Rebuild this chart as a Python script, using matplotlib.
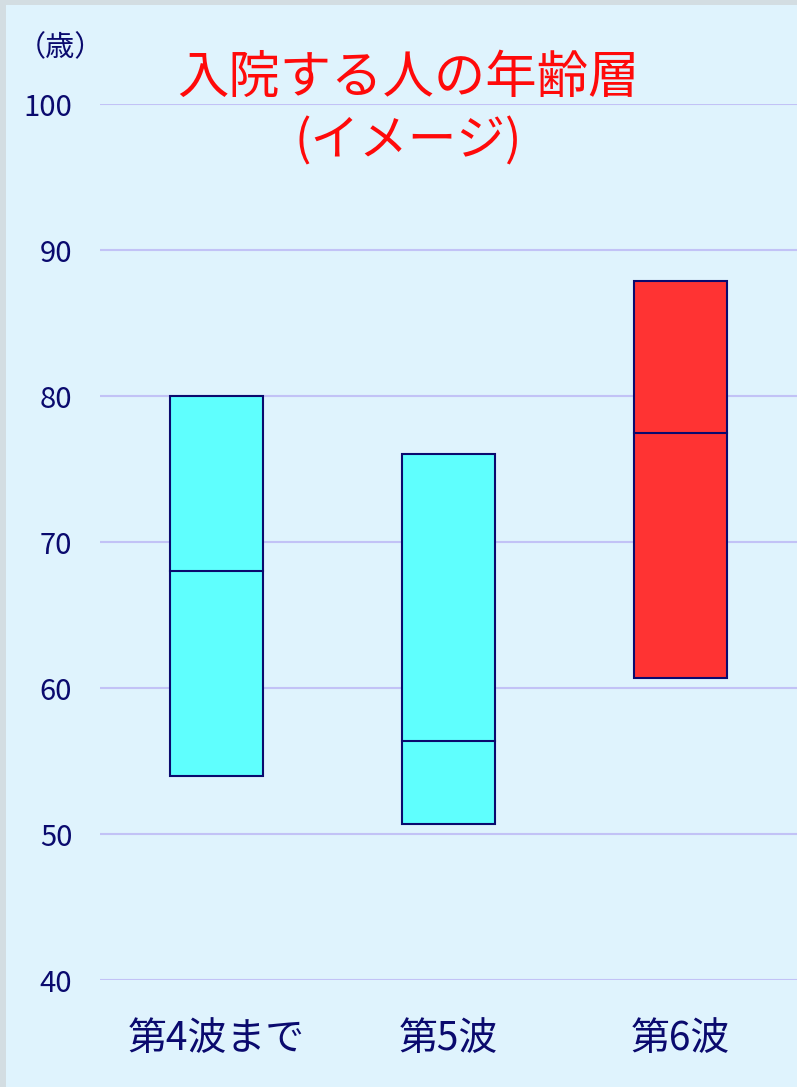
import matplotlib.pyplot as plt
from matplotlib.patches import Rectangle

plt.rcParams['font.family'] = ['Noto Sans CJK JP', 'DejaVu Sans']

# data
waves = ['第4波まで', '第5波', '第6波']
low = [54.0, 50.7, 60.7]
median = [68.0, 56.4, 77.5]
high = [80.0, 76.0, 87.9]
colors = ['#5ffffe', '#5ffffe', '#ff3333']
yticks = [40, 50, 60, 70, 80, 90, 100]

navy = '#0a0a6e'
bg = '#dff3fd'

fig = plt.figure(figsize=(7.97, 10.87), dpi=100)
fig.patch.set_facecolor('#d3dde2')
fig.patches.append(Rectangle((6 / 797, 0), 1, 1 - 5 / 1087, transform=fig.transFigure,
                             facecolor=bg, edgecolor='none', zorder=-5))

ax = fig.add_axes([100 / 797, 1 - 980 / 1087, 697 / 797, 876 / 1087])
ax.set_facecolor(bg)

x = range(len(waves))
# boxes from low to high, with a line at the median
ax.bar(x, [h - l for h, l in zip(high, low)], bottom=low, width=0.4,
       color=colors, edgecolor=navy, linewidth=1.5, zorder=3)
for i in x:
    ax.plot([i - 0.2, i + 0.2], [median[i], median[i]], color=navy, lw=1.5, zorder=4)

ax.set_xlim(-0.5, 2.5)
ax.set_ylim(40, 100)
ax.set_yticks(yticks)
ax.yaxis.grid(True, color='#c2c2f6', lw=1.5, zorder=1)
ax.set_axisbelow(True)
for s in ax.spines.values():
    s.set_visible(False)
ax.tick_params(length=0)
ax.set_yticklabels([str(v) for v in yticks], fontsize=21, color=navy)
ax.tick_params(axis='y', pad=20)
ax.set_xticks(list(x))
ax.set_xticklabels(waves, fontsize=28, color=navy)
ax.tick_params(axis='x', pad=28)

fig.text(60 / 797, 1 - 48 / 1087, '（歳）', fontsize=21, color=navy, ha='center', va='center')
fig.text(408 / 797, 1 - 78 / 1087, '入院する人の年齢層', fontsize=37, color='#ff0a0a',
         ha='center', va='center')
fig.text(408 / 797, 1 - 142 / 1087, '(イメージ)', fontsize=35, color='#ff0a0a',
         ha='center', va='center')

plt.savefig('out.png', dpi=100, facecolor=fig.get_facecolor())
